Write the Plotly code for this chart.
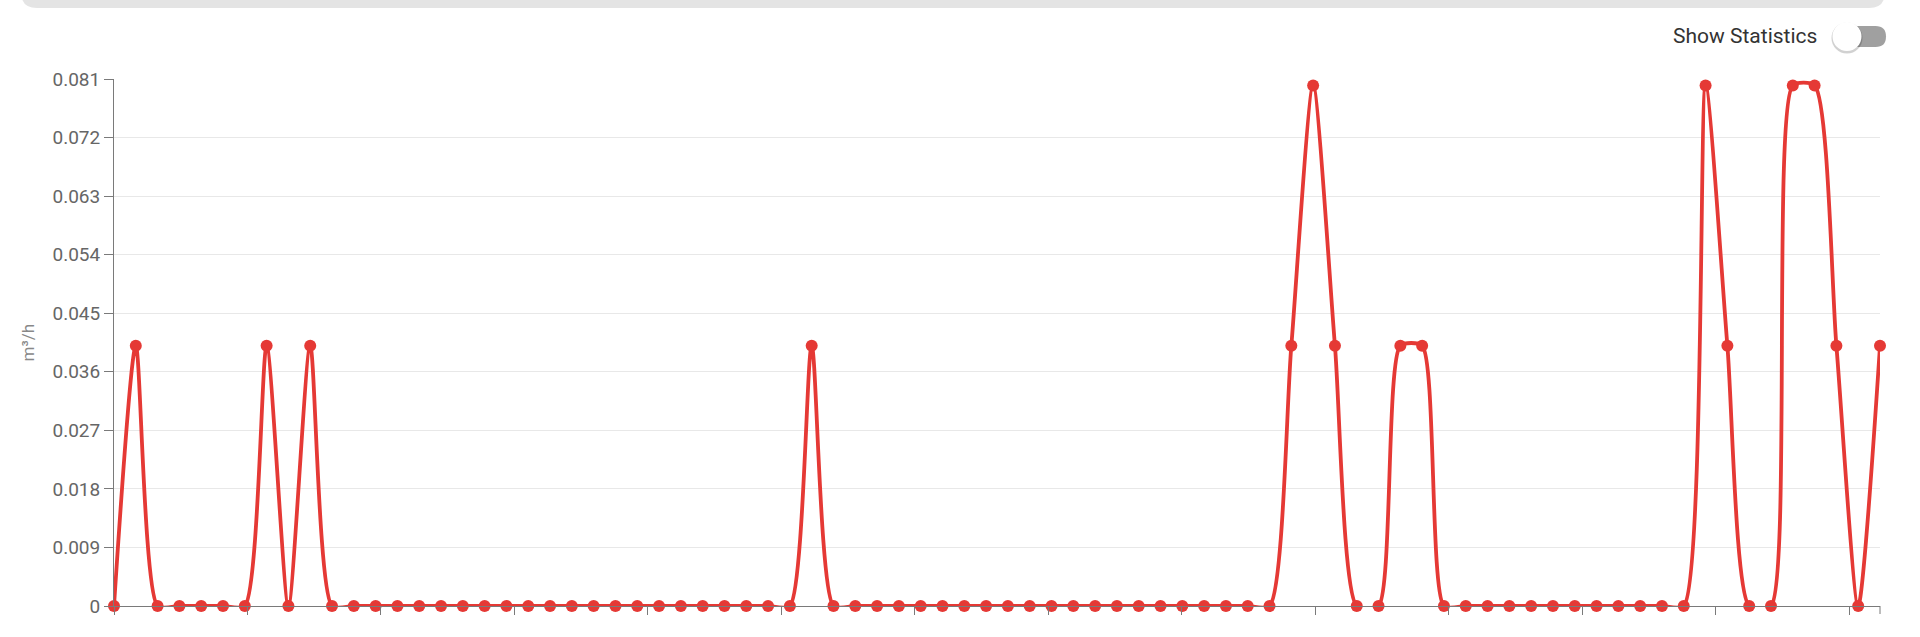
import plotly.graph_objects as go
import pandas as pd

# flow readings in m³/h, one reading every 49 minutes
start_time = "2024-05-06 00:00"
step = "49min"
flow = [
    0, 0.04, 0, 0, 0, 0, 0, 0.04, 0, 0.04,
    0, 0, 0, 0, 0, 0, 0, 0, 0, 0,
    0, 0, 0, 0, 0, 0, 0, 0, 0, 0,
    0, 0, 0.04, 0, 0, 0, 0, 0, 0, 0,
    0, 0, 0, 0, 0, 0, 0, 0, 0, 0,
    0, 0, 0, 0, 0.04, 0.08, 0.04, 0, 0, 0.04,
    0.04, 0, 0, 0, 0, 0, 0, 0, 0, 0,
    0, 0, 0, 0.08, 0.04, 0, 0, 0.08, 0.08, 0.04,
    0, 0.04,
]
y_ticks = [0, 0.009, 0.018, 0.027, 0.036, 0.045, 0.054, 0.063, 0.072, 0.081]
y_labels = ["0", "0.009", "0.018", "0.027", "0.036", "0.045", "0.054", "0.063", "0.072", "0.081"]
unit = "m³/h"
toggle_label = "Show Statistics"

times = pd.date_range(start_time, periods=len(flow), freq=step)

W, H = 1920, 637
L, R, T, B = 114, 40, 79, 31
pw, ph = W - L - R, H - T - B

# pixel -> paper helpers for the decorations
def px(x):
    return (x - L) / pw

def py(y):
    return (H - B - y) / ph

RED = "#e53935"
AXIS = "#7a7a7a"
FONT = "Roboto"

fig = go.Figure()
fig.add_trace(go.Scatter(
    x=times, y=flow, mode="lines+markers",
    line=dict(color=RED, width=3.8, shape="spline", smoothing=0.65),
    marker=dict(color=RED, size=12),
    cliponaxis=False, showlegend=False,
))

shapes = []
# grey bar along the top (rounded bottom corners)
x0, x1, yb, r = 21, 1885, 8, 16
shapes.append(dict(
    type="path", xref="paper", yref="paper",
    path=(f"M {px(x0)} {py(-20)} L {px(x0)} {py(yb - r)} "
          f"Q {px(x0)} {py(yb)} {px(x0 + r)} {py(yb)} "
          f"L {px(x1 - r)} {py(yb)} "
          f"Q {px(x1)} {py(yb)} {px(x1)} {py(yb - r)} "
          f"L {px(x1)} {py(-20)} Z"),
    fillcolor="#e4e4e4", line=dict(width=0), layer="above",
))
# toggle switch
tx0, tx1, ty0, ty1 = 1835, 1886, 26, 47
tr = (ty1 - ty0) / 2
shapes.append(dict(
    type="path", xref="paper", yref="paper",
    path=(f"M {px(tx0 + tr)} {py(ty0)} L {px(tx1 - tr)} {py(ty0)} "
          f"Q {px(tx1)} {py(ty0)} {px(tx1)} {py(ty0 + tr)} "
          f"Q {px(tx1)} {py(ty1)} {px(tx1 - tr)} {py(ty1)} "
          f"L {px(tx0 + tr)} {py(ty1)} "
          f"Q {px(tx0)} {py(ty1)} {px(tx0)} {py(ty0 + tr)} "
          f"Q {px(tx0)} {py(ty0)} {px(tx0 + tr)} {py(ty0)} Z"),
    fillcolor="#a0a0a0", line=dict(width=0), layer="above",
))
kx, ky, kr = 1847, 36.5, 14.5
shapes.append(dict(
    type="circle", xref="paper", yref="paper",
    x0=px(kx - kr - 1), x1=px(kx + kr + 1), y0=py(ky + kr + 2.5), y1=py(ky - kr + 0.5),
    fillcolor="rgba(0,0,0,0.18)", line=dict(width=0), layer="above",
))
shapes.append(dict(
    type="circle", xref="paper", yref="paper",
    x0=px(kx - kr), x1=px(kx + kr), y0=py(ky + kr), y1=py(ky - kr),
    fillcolor="#ffffff", line=dict(width=0), layer="above",
))
# outer tick at the right end of the x axis
shapes.append(dict(
    type="line", xref="paper", yref="paper", ysizemode="pixel", yanchor=0,
    x0=1, x1=1, y0=0, y1=-8, line=dict(color=AXIS, width=1),
))

fig.update_layout(
    width=W, height=H,
    margin=dict(l=L, r=R, t=T, b=B, autoexpand=False),
    paper_bgcolor="white", plot_bgcolor="white",
    font=dict(family=FONT, color="#666666", size=19),
    shapes=shapes,
    annotations=[
        dict(text=toggle_label, xref="paper", yref="paper",
             x=px(1819), y=py(36), xanchor="right", yanchor="middle",
             showarrow=False, font=dict(family=FONT, size=21, color="#333333")),
        dict(text=unit, xref="paper", yref="paper",
             x=px(27), y=0.5, xanchor="center", yanchor="middle", textangle=-90,
             showarrow=False, font=dict(family=FONT, size=17, color="#888888")),
    ],
    xaxis=dict(
        type="date", range=[times[0], times[-1]],
        tick0=times[0], dtick=5 * 3600 * 1000,
        showticklabels=False,  # time labels fall below the visible area
        showgrid=False, zeroline=False, automargin=False,
        showline=True, linecolor=AXIS, linewidth=1,
        ticks="outside", ticklen=8, tickcolor=AXIS,
    ),
    yaxis=dict(
        range=[0, 0.081], tickvals=y_ticks, ticktext=y_labels,
        showgrid=True, gridcolor="#e8e8e8", gridwidth=1, zeroline=False,
        automargin=False,
        showline=True, linecolor=AXIS, linewidth=1,
        ticks="outside", ticklen=9, tickcolor=AXIS,
    ),
)

# the page puts an 8px margin round the plot; drop it so the figure fills the window
fig.write_html("out.html", config={"displayModeBar": False},
               post_script="document.body.style.margin = '0';")
